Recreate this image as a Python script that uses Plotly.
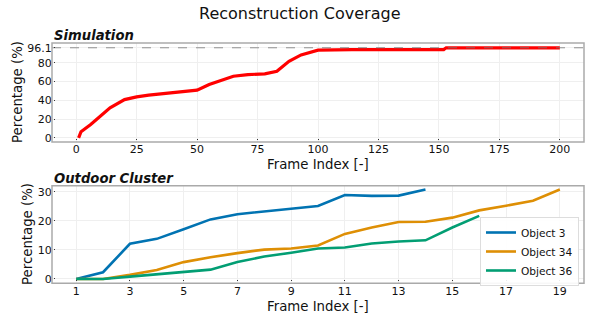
import plotly.graph_objects as go

# ---- Data ----
sim_frames = [1, 2, 6, 10, 14, 20, 25, 30, 34, 40, 46, 50, 55, 60, 65, 71, 78, 83, 88, 93, 97, 100, 114, 152, 153, 200]
sim_values = [0, 6.5, 14.2, 23, 32, 40.8, 43.7, 45.5, 46.5, 47.6, 49, 50.8, 56.9, 61.1, 65.7, 67.5, 68.2, 71, 81.7, 88.5, 91.7, 93.5, 94.2, 94.2, 96.1, 96.1]
sim_max = 96.1

obj_frames_3 = list(range(1, 15))
obj_values_3 = [0, 2.3, 12.1, 13.8, 17.1, 20.5, 22.3, 23.3, 24.3, 25.1, 28.9, 28.6, 28.7, 30.8]
obj_frames_34 = list(range(1, 20))
obj_values_34 = [0, 0, 1.4, 3.1, 5.8, 7.5, 8.9, 10.1, 10.5, 11.5, 15.5, 17.7, 19.6, 19.7, 21.1, 23.6, 25.2, 26.9, 30.8]
obj_frames_36 = list(range(1, 17))
obj_values_36 = [0, 0, 0.8, 1.6, 2.4, 3.2, 5.8, 7.7, 9.0, 10.5, 10.8, 12.2, 12.9, 13.3, 17.7, 21.7]

series_names = ["Object 3", "Object 34", "Object 36"]
series_colors = ["#0173B2", "#DE8F05", "#029E73"]

sim_xticks = [0, 25, 50, 75, 100, 125, 150, 175, 200]
sim_yticks = [0, 20, 40, 60, 80, 96.1]
sim_yticklabels = ["0", "20", "40", "60", "80", "96.1"]
out_xticks = [1, 3, 5, 7, 9, 11, 13, 15, 17, 19]
out_yticks = [0, 10, 20, 30]

FONT = "DejaVu Sans"
W, H = 598, 317
x0, x1 = 52 / W, 584 / W
top_dom = [1 - 142 / H, 1 - 43 / H]
bot_dom = [1 - 283.3 / H, 1 - 185.7 / H]
LBL_UP = 4 / H      # pull x tick labels up toward the frame
LBL_RIGHT = 3 / W   # pull y tick labels right toward the frame

def py(y):
    return 1 - y / H

fig = go.Figure()

fig.add_trace(go.Scatter(x=sim_frames, y=sim_values, mode="lines",
                         line=dict(color="#FF0000", width=3.2), showlegend=False,
                         xaxis="x", yaxis="y"))
fig.add_trace(go.Scatter(x=[-10, 210], y=[sim_max, sim_max], mode="lines",
                         line=dict(color="#777777", width=0.8, dash="dash"),
                         showlegend=False, hoverinfo="skip", xaxis="x", yaxis="y"))

for fr, vals, name, col in zip([obj_frames_3, obj_frames_34, obj_frames_36],
                               [obj_values_3, obj_values_34, obj_values_36],
                               series_names, series_colors):
    fig.add_trace(go.Scatter(x=fr, y=vals, mode="lines", name=name,
                             line=dict(color=col, width=2.6),
                             xaxis="x2", yaxis="y2"))

axis_common = dict(showline=False, showgrid=True, gridcolor="#EFEFEF", gridwidth=1,
                   zeroline=False, ticks="outside", ticklen=1, tickcolor="#333333",
                   automargin=False, anchor="free",
                   tickfont=dict(family=FONT, size=11, color="#111111"))

TITLE_SIZE = 13.3
ann_font = dict(family=FONT, size=TITLE_SIZE, color="#111111")

frame_line = dict(color="#AAAAAA", width=1.5)

fig.update_layout(
    width=W, height=H,
    margin=dict(l=0, r=0, t=0, b=0, autoexpand=False),
    paper_bgcolor="white", plot_bgcolor="white",
    font=dict(family=FONT, color="#111111"),
    xaxis=dict(domain=[x0, x1], position=top_dom[0] + LBL_UP, range=[-10, 210],
               tickvals=sim_xticks, **axis_common),
    yaxis=dict(domain=top_dom, position=x0 + LBL_RIGHT, range=[-4.5, 101.2],
               tickvals=sim_yticks, ticktext=sim_yticklabels, **axis_common),
    xaxis2=dict(domain=[x0, x1], position=bot_dom[0] + LBL_UP, range=[0.1, 19.9],
                tickvals=out_xticks, **axis_common),
    yaxis2=dict(domain=bot_dom, position=x0 + LBL_RIGHT, range=[-1.5, 32.1],
                tickvals=out_yticks, **axis_common),
    shapes=[
        dict(type="rect", xref="x domain", yref="y domain", x0=0, x1=1, y0=0, y1=1,
             line=frame_line, layer="above"),
        dict(type="rect", xref="x2 domain", yref="y2 domain", x0=0, x1=1, y0=0, y1=1,
             line=frame_line, layer="above"),
    ],
    legend=dict(x=579 / W, y=py(217), xanchor="right", yanchor="top",
                bgcolor="rgba(255,255,255,0.9)", bordercolor="#DDDDDD", borderwidth=1,
                font=dict(family=FONT, size=10.6, color="#111111"),
                itemwidth=30, tracegroupgap=0),
    annotations=[
        dict(text="Reconstruction Coverage", x=0.5, y=py(14), xref="paper", yref="paper",
             xanchor="center", yanchor="middle", showarrow=False,
             font=dict(family=FONT, size=16, color="#111111")),
        dict(text="<b><i>Simulation</i></b>", x=x0, y=py(45), xref="paper", yref="paper",
             xanchor="left", yanchor="bottom", showarrow=False,
             font=dict(family=FONT, size=13.2, color="#111111")),
        dict(text="<b><i>Outdoor Cluster</i></b>", x=x0, y=py(188), xref="paper", yref="paper",
             xanchor="left", yanchor="bottom", showarrow=False,
             font=dict(family=FONT, size=13.2, color="#111111")),
        dict(text="Frame Index [-]", x=(x0 + x1) / 2, y=py(164), xref="paper", yref="paper",
             xanchor="center", yanchor="middle", showarrow=False, font=ann_font),
        dict(text="Frame Index [-]", x=(x0 + x1) / 2, y=py(306), xref="paper", yref="paper",
             xanchor="center", yanchor="middle", showarrow=False, font=ann_font),
        dict(text="Percentage (%)", x=17.5 / W, y=sum(top_dom) / 2, xref="paper", yref="paper",
             xanchor="center", yanchor="middle", showarrow=False, textangle=-90, font=ann_font),
        dict(text="Percentage (%)", x=27.5 / W, y=sum(bot_dom) / 2, xref="paper", yref="paper",
             xanchor="center", yanchor="middle", showarrow=False, textangle=-90, font=ann_font),
    ],
)

fig.write_html("out.html", config={"displayModeBar": False},
               post_script="document.body.style.margin='0';document.body.style.padding='0';"
                           "document.body.style.overflow='hidden';")
